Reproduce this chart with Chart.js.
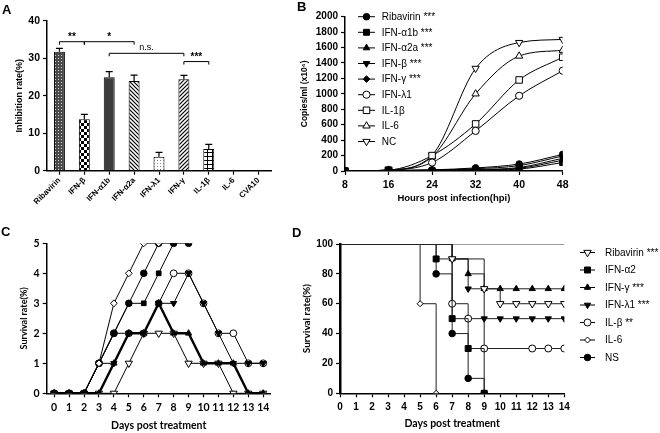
<!DOCTYPE html>
<html><head><meta charset="utf-8">
<script src="https://cdn.jsdelivr.net/npm/chart.js@4/dist/chart.umd.min.js"></script>
<style>
html,body{margin:0;padding:0;background:#fff;width:660px;height:433px;overflow:hidden;position:relative;}
canvas{position:absolute;}
.lbl{position:absolute;font:bold 13px "Liberation Sans",Arial,sans-serif;line-height:13px;color:#000;}
</style></head><body>
<canvas id="ca" width="300" height="216" style="left:0;top:0"></canvas>
<canvas id="cb" width="365" height="216" style="left:295px;top:0"></canvas>
<canvas id="cc" width="300" height="217" style="left:0;top:216px"></canvas>
<canvas id="cd" width="365" height="217" style="left:295px;top:216px"></canvas>
<div class="lbl" style="left:2px;top:3px">A</div>
<div class="lbl" style="left:297px;top:0px">B</div>
<div class="lbl" style="left:1px;top:225px">C</div>
<div class="lbl" style="left:292px;top:226px">D</div>
<script>
// ---------------- DATA ----------------
// Panel A
const aCategories = ['Ribavirin','IFN-β','IFN-α1b','IFN-α2a','IFN-λ1','IFN-γ','IL-1β','IL-6','CVA10'];
const aValues = [31.7, 13.7, 24.9, 23.9, 3.7, 24.4, 5.8, 0, 0];
const aErrors = [0.9, 1.3, 1.5, 1.6, 1.2, 1.0, 1.2, 0, 0];
const aBracketFrom = [0, 1, 2, 5];
const aBracketTo = [1, 3, 5, 6];
const aBracketY = [34.4, 34.4, 31.3, 29.1];
const aBracketText = ['**', '*', 'n.s.', '***'];

// Panel B
const bHours = [8, 16, 24, 32, 40, 48];
const bRibavirin = [0, 8, 15, 40, 90, 215];
const bIFNa1b = [0, 3, 5, 10, 25, 110];
const bIFNa2a = [0, 4, 8, 15, 35, 140];
const bIFNb = [0, 5, 10, 20, 45, 165];
const bIFNg = [0, 6, 12, 30, 70, 195];
const bIFNl1 = [0, 10, 110, 520, 975, 1300];
const bIL1b = [0, 12, 200, 610, 1180, 1475];
const bIL6 = [0, 12, 185, 1000, 1490, 1565];
const bNC = [0, 14, 205, 1330, 1665, 1705];

// Panel C
const cDays = [0,1,2,3,4,5,6,7,8,9,10,11,12,13,14];
const cIL6      = [0,0,0,1,3,4,5,5,null,null,null,null,null,null,null];
const cNS       = [0,0,0,1,2,3,4,5,5,5,null,null,null,null,null];
const cIFNa2    = [0,0,0,1,2,3,3,4,5,null,null,null,null,null,null];
const cILb      = [0,0,0,1,2,2,2,3,4,4,3,2,2,1,1];
const cIFNl1    = [0,0,0,1,1,2,2,3,3,4,3,2,1,1,1];
const cIFNg     = [0,0,0,0,1,2,2,3,2,2,1,1,1,0,0];
const cRibavirin= [0,0,0,0,0,1,2,2,2,1,1,1,0,0,0];

// Panel D (Kaplan-Meier: event days and survival %)
const dRibDays = [0, 7, 9, 10, 11, 12, 13, 14];
const dRibSurv = [100, 90, 70, 60, 60, 60, 60, 60];
const dA2Days = [0, 6, 7, 8, 9];
const dA2Surv = [100, 90, 50, 30, 0];
const dGDays = [0, 7, 8, 9, 10, 11, 12, 13, 14];
const dGSurv = [100, 90, 80, 70, 70, 70, 70, 70, 70];
const dL1Days = [0, 7, 8, 9, 10, 11, 12, 13, 14];
const dL1Surv = [100, 90, 70, 50, 50, 50, 50, 50, 50];
const dIlbDays = [0, 7, 8, 9, 12, 13, 14];
const dIlbSurv = [100, 60, 50, 30, 30, 30, 30];
const dIL6Days = [0, 5, 6];
const dIL6Surv = [100, 60, 0];
const dNSDays = [0, 6, 7, 8, 9];
const dNSSurv = [100, 80, 40, 10, 0];

// ---------------- HELPERS ----------------
const AR = '"Liberation Sans", Arial, sans-serif';
const LT = 'Lato, "Liberation Sans", sans-serif';
Chart.defaults.animation = false;
Chart.defaults.color = '#000';
Chart.defaults.devicePixelRatio = 1;

function pts(xs, ys) { return xs.map((x, i) => ({x: x, y: ys[i]})); }

function drawMarker(ctx, style, rot, r, fill, x, y) {
  ctx.save();
  ctx.fillStyle = fill; ctx.strokeStyle = '#000'; ctx.lineWidth = 1;
  if (Chart.helpers && Chart.helpers.drawPoint) {
    Chart.helpers.drawPoint(ctx, {pointStyle: style, rotation: rot || 0, radius: r, borderWidth: 1}, x, y);
  } else {
    ctx.beginPath();
    if (style === 'circle') ctx.arc(x, y, r, 0, Math.PI * 2);
    else if (style === 'rect') { const s = r * Math.SQRT1_2; ctx.rect(x - s, y - s, 2 * s, 2 * s); }
    else if (style === 'rectRot') { ctx.moveTo(x, y - r); ctx.lineTo(x + r, y); ctx.lineTo(x, y + r); ctx.lineTo(x - r, y); }
    else { const d = rot ? -1 : 1; ctx.moveTo(x, y - d * r); ctx.lineTo(x + r * 0.87, y + d * r * 0.5); ctx.lineTo(x - r * 0.87, y + d * r * 0.5); }
    ctx.closePath(); ctx.fill(); ctx.stroke();
  }
  ctx.restore();
}

function makePattern(w, h, draw) {
  const c = document.createElement('canvas'); c.width = w; c.height = h;
  const g = c.getContext('2d'); g.fillStyle = '#fff'; g.fillRect(0, 0, w, h); draw(g);
  return g.createPattern(c, 'repeat');
}

function linAxis(o) {
  return {
    type: 'linear', min: o.min, max: o.max,
    ticks: {stepSize: o.step, autoSkip: false, color: '#000', font: o.tickFont, padding: o.tickPad || 3, maxRotation: 0, callback: v => String(v)},
    grid: {display: true, drawOnChartArea: !!o.gridColor, color: o.gridColor || '#000', tickColor: '#000', drawTicks: true, tickLength: 4, tickWidth: 1.2},
    border: {display: true, color: '#000', width: o.bw || 1.5},
    title: o.title ? {display: true, text: o.title, color: '#000', font: o.titleFont, padding: {top: o.tp || 0, bottom: o.pb || 0}} : {display: false},
    afterFit: o.width ? (s) => { s.width = o.width; } : (s) => { s.height = o.height; }
  };
}

// ---------------- PANEL A ----------------
const aPatterns = [
  makePattern(3, 3, g => { g.fillStyle = '#4a4a4a'; g.fillRect(0, 0, 3, 3); g.fillStyle = '#d8d8d8'; g.fillRect(1, 1, 1, 1); }),
  makePattern(6, 6, g => { g.fillStyle = '#000'; g.fillRect(0, 0, 3, 3); g.fillRect(3, 3, 3, 3); }),
  '#3d3d3d',
  makePattern(4, 4, g => { g.strokeStyle = '#000'; g.lineWidth = 1.2; g.beginPath(); g.moveTo(-1, -1); g.lineTo(5, 5); g.moveTo(-1, 3); g.lineTo(1, 5); g.moveTo(3, -1); g.lineTo(5, 1); g.stroke(); }),
  makePattern(3, 3, g => { g.fillStyle = '#888'; g.fillRect(1, 1, 1, 1); }),
  makePattern(4, 4, g => { g.strokeStyle = '#000'; g.lineWidth = 1.2; g.beginPath(); g.moveTo(-1, 5); g.lineTo(5, -1); g.moveTo(-1, 1); g.lineTo(1, -1); g.moveTo(3, 5); g.lineTo(5, 3); g.stroke(); }),
  makePattern(5, 4, g => { g.fillStyle = '#000'; g.fillRect(2, 0, 1, 4); g.fillRect(0, 0, 5, 1); }),
  '#fff', '#fff'
];

const errBarsA = {
  id: 'errBarsA',
  afterDatasetsDraw(chart) {
    const ctx = chart.ctx, ys = chart.scales.y, meta = chart.getDatasetMeta(0);
    ctx.save(); ctx.strokeStyle = '#000'; ctx.lineWidth = 1.2;
    aValues.forEach((v, i) => {
      if (!aErrors[i]) return;
      const x = meta.data[i].x, y0 = ys.getPixelForValue(v), y1 = ys.getPixelForValue(v + aErrors[i]);
      ctx.beginPath(); ctx.moveTo(x, y0); ctx.lineTo(x, y1); ctx.moveTo(x - 3.5, y1); ctx.lineTo(x + 3.5, y1); ctx.stroke();
    });
    // significance brackets
    const xs = chart.scales.x;
    aBracketText.forEach((t, i) => {
      const x1 = xs.getPixelForValue(aBracketFrom[i]), x2 = xs.getPixelForValue(aBracketTo[i]);
      const y = ys.getPixelForValue(aBracketY[i]);
      ctx.lineWidth = 1;
      ctx.beginPath(); ctx.moveTo(x1, y + 3); ctx.lineTo(x1, y); ctx.lineTo(x2, y); ctx.lineTo(x2, y + 3); ctx.stroke();
      ctx.fillStyle = '#000'; ctx.textAlign = 'center'; ctx.textBaseline = 'bottom';
      ctx.font = t === 'n.s.' ? '9px ' + AR : 'bold 10px ' + AR;
      ctx.fillText(t, (x1 + x2) / 2, y - (t === 'n.s.' ? 1 : -1));
    });
    ctx.restore();
  }
};

new Chart(document.getElementById('ca'), {
  type: 'bar',
  data: {labels: aCategories, datasets: [{data: aValues, backgroundColor: aPatterns, borderColor: '#000', borderWidth: 1, barPercentage: 0.44, categoryPercentage: 1}]},
  options: {
    responsive: false, events: [],
    layout: {padding: {left: 0, right: 29, top: 20.7, bottom: 0}},
    plugins: {legend: {display: false}, tooltip: {enabled: false}},
    scales: {
      x: {
        type: 'category', offset: true,
        ticks: {autoSkip: false, maxRotation: 45, minRotation: 45, color: '#000', font: {family: AR, size: 8, weight: 'bold'}, padding: 1},
        grid: {display: true, offset: false, drawOnChartArea: false, drawTicks: true, tickLength: 4, color: '#000', tickColor: '#000', tickWidth: 1.2},
        border: {display: true, color: '#000', width: 1.5},
        afterFit: s => { s.height = 45.3; }
      },
      y: linAxis({min: 0, max: 40, step: 10, tickFont: {family: AR, size: 10.5, weight: 'bold'}, title: 'Inhibition rate(%)', titleFont: {family: AR, size: 9, weight: 'bold'}, tp: 14.6, width: 47})
    }
  },
  plugins: [errBarsA]
});

// ---------------- PANEL B ----------------
function legendPlugin(id, x0, x1, xm, xt, y0, dy, font) {
  return {
    id: id,
    afterDraw(chart) {
      const ctx = chart.ctx;
      chart.data.datasets.forEach((ds, i) => {
        const y = y0 + dy * i;
        ctx.save(); ctx.strokeStyle = '#000'; ctx.lineWidth = 1;
        ctx.beginPath(); ctx.moveTo(x0, y); ctx.lineTo(x1, y); ctx.stroke(); ctx.restore();
        drawMarker(ctx, ds.pointStyle, ds.pointRotation, ds.legendRadius, ds.pointBackgroundColor, xm, y);
        ctx.save(); ctx.fillStyle = '#000'; ctx.font = font; ctx.textAlign = 'left'; ctx.textBaseline = 'middle';
        ctx.fillText(ds.label, xt, y + 0.5); ctx.restore();
      });
    }
  };
}

function bSet(label, ys, style, rot, fill, r) {
  return {label: label, data: pts(bHours, ys), borderColor: '#000', borderWidth: 1, pointStyle: style, pointRotation: rot,
    pointBackgroundColor: fill, pointBorderColor: '#000', pointBorderWidth: 1, pointRadius: r, legendRadius: r,
    cubicInterpolationMode: 'monotone', fill: false};
}

new Chart(document.getElementById('cb'), {
  type: 'line',
  data: {datasets: [
    bSet('Ribavirin ***', bRibavirin, 'circle', 0, '#000', 3.3),
    bSet('IFN-α1b ***', bIFNa1b, 'rect', 0, '#000', 4.2),
    bSet('IFN-α2a ***', bIFNa2a, 'triangle', 0, '#000', 3.8),
    bSet('IFN-β ***', bIFNb, 'triangle', 180, '#000', 3.8),
    bSet('IFN-γ ***', bIFNg, 'rectRot', 0, '#000', 3.3),
    bSet('IFN-λ1', bIFNl1, 'circle', 0, '#fff', 3.6),
    bSet('IL-1β', bIL1b, 'rect', 0, '#fff', 4.6),
    bSet('IL-6', bIL6, 'triangle', 0, '#fff', 4.2),
    bSet('NC', bNC, 'triangle', 180, '#fff', 4.2)
  ]},
  options: {
    responsive: false, events: [],
    layout: {padding: {left: 0, right: 97.3, top: 16.7, bottom: 0}},
    plugins: {legend: {display: false}, tooltip: {enabled: false}},
    scales: {
      x: linAxis({min: 8, max: 48, step: 8, tickFont: {family: AR, size: 10.5, weight: 'bold'}, tickPad: 4, title: 'Hours post infection(hpi)', titleFont: {family: AR, size: 9.5, weight: 'bold'}, pb: 12.3, height: 45}),
      y: linAxis({min: 0, max: 2000, step: 200, tickFont: {family: AR, size: 10, weight: 'bold'}, title: 'Copies/ml (x10⁶)', titleFont: {family: AR, size: 8.5, weight: 'bold'}, tp: 5, width: 50})
    }
  },
  plugins: [legendPlugin('legB', 63, 80, 71.5, 86.7, 16.7, 15.6, '10px ' + AR)]
});

// ---------------- PANEL C ----------------
function cSet(label, ys, style, rot, fill, r, w) {
  return {label: label, data: ys, borderColor: '#000', borderWidth: w, pointStyle: style, pointRotation: rot,
    pointBackgroundColor: fill, pointBorderColor: '#000', pointBorderWidth: 1, pointRadius: r, tension: 0, fill: false, spanGaps: false};
}

new Chart(document.getElementById('cc'), {
  type: 'line',
  data: {labels: cDays, datasets: [
    cSet('IFN-γ', cIFNg, 'triangle', 0, '#000', 3.6, 2.4),
    cSet('IL-6', cIL6, 'rectRot', 0, '#fff', 3.4, 1),
    cSet('NS', cNS, 'circle', 0, '#000', 3.3, 1),
    cSet('IFN-α2', cIFNa2, 'rect', 0, '#000', 3.3, 1),
    cSet('IFN-λ1', cIFNl1, 'triangle', 180, '#000', 3.6, 1),
    cSet('IL-β', cILb, 'circle', 0, '#fff', 3.4, 1),
    cSet('Ribavirin', cRibavirin, 'triangle', 180, '#fff', 4.2, 1)
  ]},
  options: {
    responsive: false, events: [],
    layout: {padding: {left: 0, right: 29.3, top: 27.3, bottom: 0}},
    plugins: {legend: {display: false}, tooltip: {enabled: false}},
    scales: {
      x: {
        type: 'category', offset: true,
        ticks: {autoSkip: false, maxRotation: 0, color: '#000', font: {family: LT, size: 10.5, weight: 'bold'}, padding: 4},
        grid: {display: true, offset: false, drawOnChartArea: false, drawTicks: true, tickLength: 4, color: '#000', tickColor: '#000', tickWidth: 1.2},
        border: {display: true, color: '#000', width: 1.5},
        title: {display: true, text: 'Days post treatment', color: '#000', font: {family: LT, size: 10.5, weight: 'bold'}, padding: {top: 0, bottom: 1}},
        afterFit: s => { s.height = 39.7; }
      },
      y: linAxis({min: 0, max: 5, step: 1, tickFont: {family: LT, size: 10.5, weight: 'bold'}, title: 'Survival rate(%)', titleFont: {family: LT, size: 9, weight: 'bold'}, tp: 18.6, width: 46.7})
    }
  }
});

// ---------------- PANEL D ----------------
function dSet(label, xs, ys, style, rot, fill, r) {
  return {label: label, data: pts(xs, ys), borderColor: '#222', borderWidth: 1, stepped: true, pointStyle: style, pointRotation: rot,
    pointBackgroundColor: fill, pointBorderColor: '#000', pointBorderWidth: 1,
    pointRadius: xs.map((x, i) => i === 0 ? 0 : r), legendRadius: r, fill: false};
}

new Chart(document.getElementById('cd'), {
  type: 'line',
  data: {datasets: [
    dSet('Ribavirin ***', dRibDays, dRibSurv, 'triangle', 180, '#fff', 4.3),
    dSet('IFN-α2', dA2Days, dA2Surv, 'rect', 0, '#000', 4.2),
    dSet('IFN-γ ***', dGDays, dGSurv, 'triangle', 0, '#000', 3.6),
    dSet('IFN-λ1 ***', dL1Days, dL1Surv, 'triangle', 180, '#000', 3.6),
    dSet('IL-β **', dIlbDays, dIlbSurv, 'circle', 0, '#fff', 3.5),
    dSet('IL-6', dIL6Days, dIL6Surv, 'rectRot', 0, '#fff', 3),
    dSet('NS', dNSDays, dNSSurv, 'circle', 0, '#000', 3.3)
  ]},
  options: {
    responsive: false, events: [],
    layout: {padding: {left: 0, right: 95.7, top: 28, bottom: 0}},
    plugins: {legend: {display: false}, tooltip: {enabled: false}},
    scales: {
      x: linAxis({min: 0, max: 14, step: 1, tickFont: {family: AR, size: 10, weight: 'bold'}, tickPad: 4, title: 'Days post treatment', titleFont: {family: LT, size: 10.5, weight: 'bold'}, pb: 2.7, height: 39.7}),
      y: linAxis({min: 0, max: 100, step: 20, tickFont: {family: AR, size: 10, weight: 'bold'}, title: 'Survival rate(%)', titleFont: {family: LT, size: 10, weight: 'bold'}, tp: 6, width: 45, bw: 2.5,
        gridColor: (c) => (c.tick && c.tick.value === 100) ? '#9a9a9a' : 'rgba(0,0,0,0)'})
    }
  },
  plugins: [legendPlugin('legD', 285, 300, 292.5, 310, 36.5, 17.5, '10px ' + AR)]
});
</script>
</body></html>
